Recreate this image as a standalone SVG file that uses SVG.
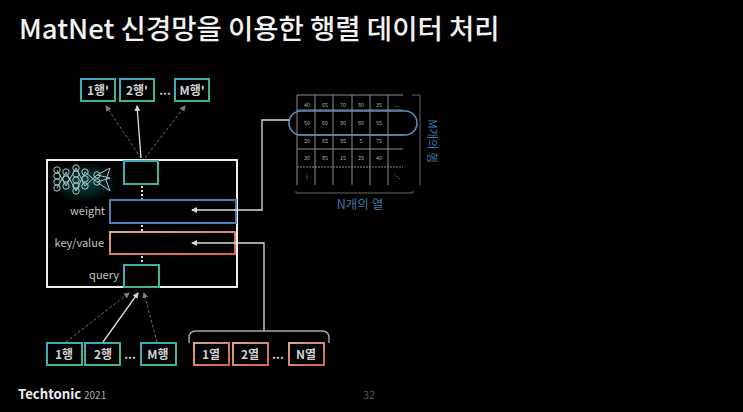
<svg xmlns="http://www.w3.org/2000/svg" width="743" height="412" viewBox="0 0 743 412">
<defs>
<linearGradient id="tg" x1="0" y1="0" x2="1" y2="1"><stop offset="0" stop-color="#3fa9c9"/><stop offset="1" stop-color="#3dba80"/></linearGradient>
<linearGradient id="rg" x1="0" y1="0" x2="1" y2="1"><stop offset="0" stop-color="#d8a78c"/><stop offset="1" stop-color="#d8604f"/></linearGradient>
<radialGradient id="glow"><stop offset="0" stop-color="#0f4a4a"/><stop offset="1" stop-color="#000"/></radialGradient>
<marker id="a" markerWidth="7" markerHeight="7" refX="5" refY="3" orient="auto" markerUnits="userSpaceOnUse"><path d="M0 0L6 3L0 6Z" fill="#d8d8d8"/></marker>
<marker id="d" markerWidth="7" markerHeight="7" refX="5" refY="3" orient="auto" markerUnits="userSpaceOnUse"><path d="M0 0L6 3L0 6Z" fill="#8a7a7a"/></marker>
</defs>
<style>
text{font-family:"Noto Sans CJK KR","Noto Sans",sans-serif}
.n{font-size:12px;font-weight:700;fill:#d0d0d0;text-anchor:middle}
.t{fill:#000;stroke:url(#tg);stroke-width:2}
.r{fill:#000;stroke:url(#rg);stroke-width:2}
.l{font-size:11px;fill:#c4c4c4;text-anchor:end}
.c{stroke:#a8a8a8;stroke-width:1.4;fill:none}
.s{stroke:#dcdcdc;stroke-width:1.3;fill:none;marker-end:url(#a)}
.da{stroke:#776a6a;stroke-width:1;stroke-dasharray:3 2;fill:none;marker-end:url(#d)}
.g{stroke:#8c8c8c;stroke-width:1;fill:none}
.v{font-size:5.5px;fill:#b0b0b0;text-anchor:middle}
.nn{stroke:#a8c8c4;stroke-width:1;fill:none}
.dot{stroke:#ddd;stroke-width:2;stroke-dasharray:2 2;fill:none}
</style>
<rect width="743" height="412" fill="#000"/>
<text id="title" x="19" y="39" font-size="27.5" font-weight="500" fill="#f2f2f2">MatNet 신경망을 이용한 행렬 데이터 처리</text>

<g id="grid">
<path class="g" d="M297 95H403M297 110H403M297 135H403M297 149H403"/>
<path class="g" stroke-dasharray="2 1" d="M297 167H403"/>
<path class="g" d="M297 95V185M315 95V185M333 95V185M352 95V185M370 95V185M388 95V185"/>
<path fill="none" stroke="#666" d="M412 95H420V185M296 191V193H413V191"/>
<text class="v" x="307" y="107">40</text><text class="v" x="325" y="107">65</text><text class="v" x="343" y="107">70</text><text class="v" x="361" y="107">80</text><text class="v" x="379" y="107">35</text><text class="v" x="397" y="107">...</text>
<text class="v" x="307" y="125">50</text><text class="v" x="325" y="125">60</text><text class="v" x="343" y="125">90</text><text class="v" x="361" y="125">80</text><text class="v" x="379" y="125">55</text>
<text class="v" x="307" y="143">20</text><text class="v" x="325" y="143">65</text><text class="v" x="343" y="143">95</text><text class="v" x="361" y="143">5</text><text class="v" x="379" y="143">75</text>
<text class="v" x="307" y="160">30</text><text class="v" x="325" y="160">85</text><text class="v" x="343" y="160">15</text><text class="v" x="361" y="160">25</text><text class="v" x="379" y="160">40</text>
<text class="v" x="307" y="178">⋮</text><text class="v" x="397" y="178">⋱</text>
<text x="360" y="209" font-size="12.5" fill="#3f78a8" text-anchor="middle">N개의 열</text>
<text x="0" y="0" font-size="11.5" fill="#3f78a8" text-anchor="middle" transform="translate(428 141) rotate(90)">M개의 행</text>
</g>

<g id="network">
<rect x="47" y="160" width="190" height="127" fill="#000" stroke="#eee" stroke-width="2"/>
<ellipse cx="84" cy="182" rx="34" ry="20" fill="url(#glow)"/>
<g class="nn">
<circle cx="57" cy="170" r="3.2"/><circle cx="57" cy="176" r="3.2"/><circle cx="57" cy="182" r="3.2"/><circle cx="57" cy="188" r="3.2"/>
<circle cx="66" cy="172" r="3.2"/><circle cx="66" cy="179" r="3.2"/><circle cx="66" cy="186" r="3.2"/>
<circle cx="76" cy="168" r="3.2"/><circle cx="76" cy="174" r="3.2"/><circle cx="76" cy="180" r="3.2"/><circle cx="76" cy="186" r="3.2"/><circle cx="76" cy="191" r="3.2"/>
<circle cx="85" cy="172" r="3.2"/><circle cx="85" cy="179" r="3.2"/><circle cx="85" cy="186" r="3.2"/>
<circle cx="97" cy="175" r="3.2"/><circle cx="97" cy="182" r="3.2"/>
<path d="M57 170L66 186M57 188L66 172M66 172L76 191M66 186L76 168M76 168L85 186M76 191L85 172M85 172L97 182M85 186L97 175M97 175L110 168M97 182L110 191M97 175L110 178M97 182L110 178M110 168L106 180L110 191"/>
</g>
</g>

<g id="output-top">
<rect class="t" x="81" y="79" width="34" height="22"/><text class="n" x="98" y="95">1행'</text>
<rect class="t" x="120" y="79" width="34" height="22"/><text class="n" x="137" y="95">2행'</text>
<text class="n" x="165" y="95">...</text>
<rect class="t" x="175" y="79" width="34" height="22"/><text class="n" x="192" y="95">M행'</text>
</g>
<g id="box-out"><rect class="t" x="124" y="161" width="34" height="23"/></g>
<g id="box-weight"><rect x="110" y="200" width="126" height="23" fill="#000" stroke="#4d7fb5" stroke-width="2"/><text class="l" x="105" y="215">weight</text></g>
<g id="box-kv"><rect class="r" x="110" y="232" width="125" height="22"/><text class="l" x="104" y="247">key/value</text></g>
<g id="box-query"><rect class="t" x="124" y="265" width="35" height="22"/><text class="l" x="119" y="279">query</text></g>
<g id="highlight"><rect x="289" y="111" width="128" height="24" rx="12" fill="none" stroke="#5f8fb5" stroke-width="1.6"/></g>

<g id="input-rows">
<rect class="t" x="47" y="343" width="35" height="22"/><text class="n" x="64" y="359">1행</text>
<rect class="t" x="85" y="343" width="35" height="22"/><text class="n" x="103" y="359">2행</text>
<text class="n" x="130" y="359">...</text>
<rect class="t" x="141" y="343" width="35" height="22"/><text class="n" x="158" y="359">M행</text>
</g>
<g id="input-cols">
<rect class="r" x="194" y="343" width="35" height="22"/><text class="n" x="211" y="359">1열</text>
<rect class="r" x="233" y="343" width="35" height="22"/><text class="n" x="250" y="359">2열</text>
<text class="n" x="278" y="359">...</text>
<rect class="r" x="289" y="343" width="35" height="22"/><text class="n" x="306" y="359">N열</text>
</g>

<g id="connectors">
<path class="da" d="M141 158L106 106"/>
<path class="s" d="M141 158L137 106"/>
<path class="da" d="M145 158L185 106"/>
<path class="dot" d="M142 186V199M142 225V231M142 256V264"/>
<path class="da" d="M66 342L129 293"/>
<path class="s" d="M103 342L138 293"/>
<path class="da" d="M157 342L144 293"/>
<path class="s" d="M289 120H262V210H192"/>
<path class="s" d="M264 331V243H192"/>
<path class="c" d="M189 343V338Q189 331 196 331H322Q329 331 329 338V343"/>
</g>

<g id="footer">
<text x="18" y="399" font-size="13.2" font-weight="700" fill="#eee">Techtonic</text>
<text x="84" y="399" font-size="10" fill="#aaa">2021</text>
<text x="369" y="399" font-size="11" fill="#555" text-anchor="middle">32</text>
</g>
</svg>
